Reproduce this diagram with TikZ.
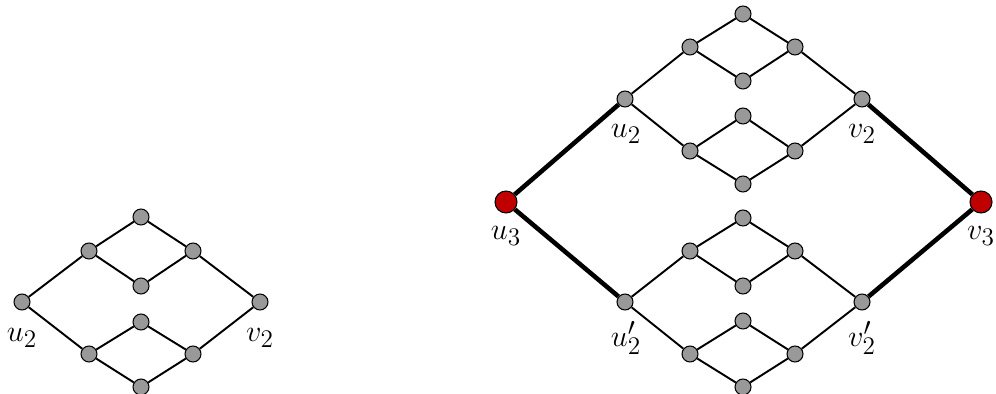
\documentclass[tikz,border=0pt]{standalone}
\usetikzlibrary{backgrounds}
\definecolor{darkred}{RGB}{192,0,0}
\begin{document}
\begin{tikzpicture}[x=0.02cm,y=-0.02cm,font=\fontsize{19}{23}\selectfont,
  vtx/.style={circle,draw,fill=black!40,line width=0.6pt,minimum size=0.32cm,inner sep=0pt},
  end/.style={circle,draw,fill=darkred,line width=0.6pt,minimum size=0.44cm,inner sep=0pt},
  edge/.style={line width=1.1pt},
  bold/.style={line width=2.6pt}]
\useasboundingbox (0,0) rectangle (996,394);
% left: the graph G_2
\node[vtx] (a) at (22,302) {};
\node[vtx] (b) at (260,302) {};
\node[vtx] (a1) at (89,251) {};\node[vtx] (a2) at (141,217) {};
\node[vtx] (a3) at (193,251) {};\node[vtx] (a4) at (141,286) {};
\node[vtx] (b1) at (89,354) {};\node[vtx] (b2) at (141,322) {};
\node[vtx] (b3) at (193,354) {};\node[vtx] (b4) at (141,387) {};
\begin{pgfonlayer}{background}
\foreach \p/\q in {a/a1,a1/a2,a2/a3,a3/b,a1/a4,a4/a3,a/b1,b1/b2,b2/b3,b3/b,b1/b4,b4/b3}
  \draw[edge] (\p) -- (\q);
\end{pgfonlayer}
\node (la) at (22,338) {$u_2$};
\node (lb) at (260,338) {$v_2$};
% right: the graph G_3
\node[end] (u) at (506,202) {};
\node[end] (v) at (981,202) {};
\node[vtx] (p) at (625,99) {};\node[vtx] (q) at (862,99) {};
\node[vtx] (r) at (625,302) {};\node[vtx] (s) at (862,302) {};
\node[vtx] (c1) at (690,47) {};\node[vtx] (c2) at (743,14) {};
\node[vtx] (c3) at (795,47) {};\node[vtx] (c4) at (743,81) {};
\node[vtx] (d1) at (690,151) {};\node[vtx] (d2) at (743,116) {};
\node[vtx] (d3) at (795,151) {};\node[vtx] (d4) at (743,184) {};
\node[vtx] (e1) at (690,251) {};\node[vtx] (e2) at (743,218) {};
\node[vtx] (e3) at (795,251) {};\node[vtx] (e4) at (743,286) {};
\node[vtx] (f1) at (690,354) {};\node[vtx] (f2) at (743,321) {};
\node[vtx] (f3) at (795,354) {};\node[vtx] (f4) at (743,387) {};
\begin{pgfonlayer}{background}
\foreach \p/\q in {p/c1,c1/c2,c2/c3,c3/q,c1/c4,c4/c3,p/d1,d1/d2,d2/d3,d3/q,d1/d4,d4/d3,
                   r/e1,e1/e2,e2/e3,e3/s,e1/e4,e4/e3,r/f1,f1/f2,f2/f3,f3/s,f1/f4,f4/f3}
  \draw[edge] (\p) -- (\q);
\draw[bold] (u) -- (p);
\draw[bold] (u) -- (r);
\draw[bold] (q) -- (v);
\draw[bold] (s) -- (v);
\end{pgfonlayer}
\node (lu) at (506,236) {$u_3$};
\node (lv) at (981,236) {$v_3$};
\node (lp) at (626,134) {$u_2$};
\node (lq) at (862,134) {$v_2$};
\node (lr) at (626,338) {$u_2'$};
\node (ls) at (862,338) {$v_2'$};
\end{tikzpicture}
\end{document}
